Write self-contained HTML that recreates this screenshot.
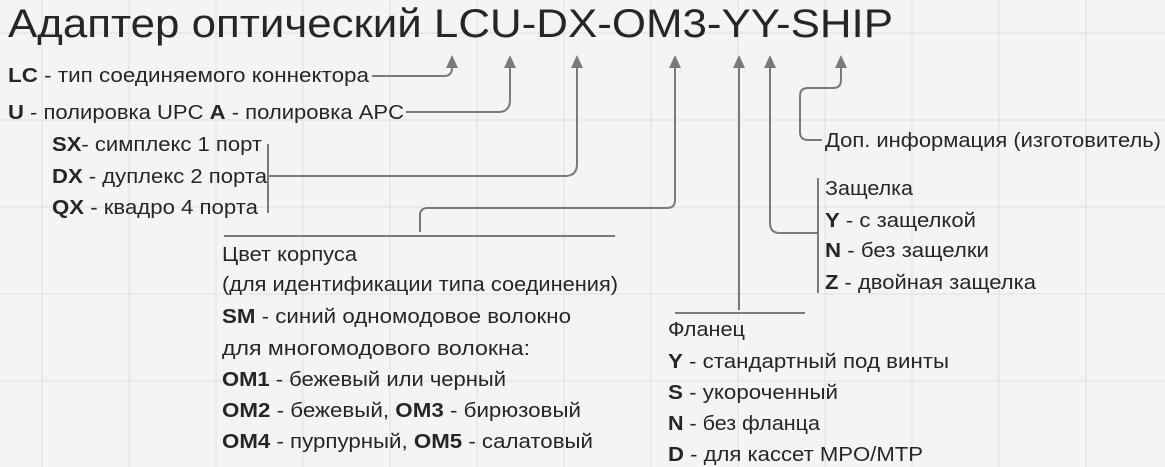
<!DOCTYPE html>
<html><head><meta charset="utf-8"><style>
html,body{margin:0;padding:0;background:#f4f4f4;}
svg{display:block}
text{font-family:"Liberation Sans","DejaVu Sans",sans-serif;fill:#262626;font-size:20px}
.b{font-weight:bold}
</style></head><body>
<svg width="1165" height="467" viewBox="0 0 1165 467" xmlns="http://www.w3.org/2000/svg">
<rect width="1165" height="467" fill="#f4f4f4"/>
<g stroke="#e0e0e0" stroke-width="1">
<line x1="42" y1="0" x2="42" y2="467"/><line x1="129" y1="0" x2="129" y2="467"/><line x1="216" y1="0" x2="216" y2="467"/><line x1="303" y1="0" x2="303" y2="467"/><line x1="390" y1="0" x2="390" y2="467"/><line x1="477" y1="0" x2="477" y2="467"/><line x1="564" y1="0" x2="564" y2="467"/><line x1="651" y1="0" x2="651" y2="467"/><line x1="738" y1="0" x2="738" y2="467"/><line x1="825" y1="0" x2="825" y2="467"/><line x1="912" y1="0" x2="912" y2="467"/><line x1="999" y1="0" x2="999" y2="467"/><line x1="1086" y1="0" x2="1086" y2="467"/>
<line x1="0" y1="33" x2="1165" y2="33"/><line x1="0" y1="120" x2="1165" y2="120"/><line x1="0" y1="207" x2="1165" y2="207"/><line x1="0" y1="294" x2="1165" y2="294"/><line x1="0" y1="381" x2="1165" y2="381"/>
</g>
<text x="8" y="37" style="font-size:40px" textLength="885" lengthAdjust="spacingAndGlyphs">Адаптер оптический LCU-DX-OM3-YY-SHIP</text>

<g fill="none" stroke="#7a7a7a" stroke-width="2">
<path d="M372 76 H444 Q452 76 452 68 V62"/>
<path d="M406 112 H498 Q510 112 510 100 V62"/>
<path d="M268 144 V213 M268 176 H565 Q577 176 577 164 V62"/>
<path d="M224 236 H615 M420 232 V215 Q420 208 428 208 H667 Q675 208 675 200 V62"/>
<path d="M675 313 H805 M739 310 V62"/>
<path d="M818 178 V293 M818 233 H780 Q770 233 770 223 V62"/>
<path d="M822 140 H808 Q800 140 800 132 V96 Q800 88 808 88 H833 Q841 88 841 80 V62"/>
</g>
<g fill="#7a7a7a">
<polygon points="452,55 446,68 458,68"/>
<polygon points="510,55 504,68 516,68"/>
<polygon points="577,55 571,68 583,68"/>
<polygon points="675,55 669,68 681,68"/>
<polygon points="739,55 733,68 745,68"/>
<polygon points="770,55 764,68 776,68"/>
<polygon points="841,55 835,68 847,68"/>
</g>

<text x="8" y="82" textLength="361" lengthAdjust="spacingAndGlyphs"><tspan class="b">LC</tspan> - тип соединяемого коннектора</text>
<text x="8" y="119" textLength="396" lengthAdjust="spacingAndGlyphs"><tspan class="b">U</tspan> - полировка UPC <tspan class="b">A</tspan> - полировка APC</text>
<text x="52" y="151" textLength="210" lengthAdjust="spacingAndGlyphs"><tspan class="b">SX</tspan>- симплекс 1 порт</text>
<text x="52" y="183" textLength="215" lengthAdjust="spacingAndGlyphs"><tspan class="b">DX</tspan> - дуплекс 2 порта</text>
<text x="52" y="214" textLength="206" lengthAdjust="spacingAndGlyphs"><tspan class="b">QX</tspan> - квадро 4 порта</text>

<text x="825" y="147" textLength="336" lengthAdjust="spacingAndGlyphs">Доп. информация (изготовитель)</text>
<text x="825" y="195" textLength="88" lengthAdjust="spacingAndGlyphs">Защелка</text>
<text x="825" y="227" textLength="151" lengthAdjust="spacingAndGlyphs"><tspan class="b">Y</tspan> - с защелкой</text>
<text x="825" y="257" textLength="164" lengthAdjust="spacingAndGlyphs"><tspan class="b">N</tspan> - без защелки</text>
<text x="825" y="289" textLength="211" lengthAdjust="spacingAndGlyphs"><tspan class="b">Z</tspan> - двойная защелка</text>

<text x="222" y="261" textLength="135" lengthAdjust="spacingAndGlyphs">Цвет корпуса</text>
<text x="222" y="291" textLength="396" lengthAdjust="spacingAndGlyphs">(для идентификации типа соединения)</text>
<text x="222" y="323" textLength="349" lengthAdjust="spacingAndGlyphs"><tspan class="b">SM</tspan> - синий одномодовое волокно</text>
<text x="222" y="355" textLength="308" lengthAdjust="spacingAndGlyphs">для многомодового волокна:</text>
<text x="222" y="386" textLength="284" lengthAdjust="spacingAndGlyphs"><tspan class="b">OM1</tspan> - бежевый или черный</text>
<text x="222" y="417" textLength="359" lengthAdjust="spacingAndGlyphs"><tspan class="b">OM2</tspan> - бежевый, <tspan class="b">OM3</tspan> - бирюзовый</text>
<text x="222" y="448" textLength="371" lengthAdjust="spacingAndGlyphs"><tspan class="b">OM4</tspan> - пурпурный, <tspan class="b">OM5</tspan> - салатовый</text>

<text x="668" y="336" textLength="77" lengthAdjust="spacingAndGlyphs">Фланец</text>
<text x="668" y="368" textLength="281" lengthAdjust="spacingAndGlyphs"><tspan class="b">Y</tspan> - стандартный под винты</text>
<text x="668" y="399" textLength="170" lengthAdjust="spacingAndGlyphs"><tspan class="b">S</tspan> - укороченный</text>
<text x="668" y="430" textLength="152" lengthAdjust="spacingAndGlyphs"><tspan class="b">N</tspan> - без фланца</text>
<text x="668" y="461" textLength="255" lengthAdjust="spacingAndGlyphs"><tspan class="b">D</tspan> - для кассет MPO/MTP</text>
</svg>
</body></html>
